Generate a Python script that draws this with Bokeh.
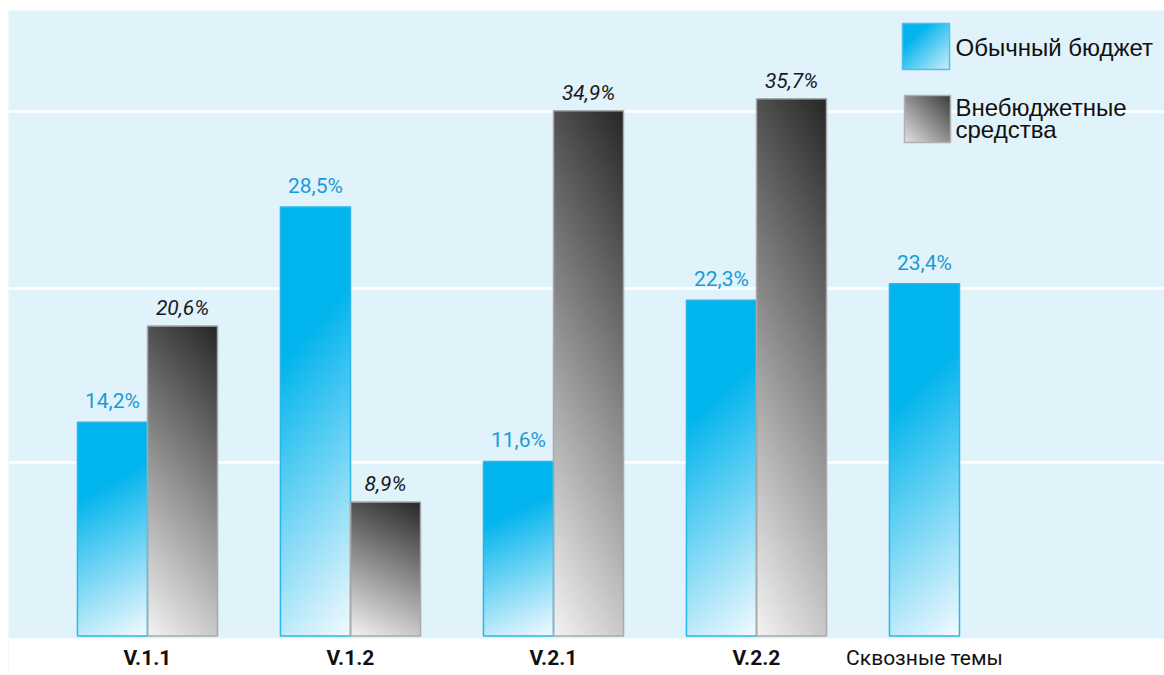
import numpy as np
from bokeh.plotting import figure
from bokeh.models import FixedTicker
from bokeh.core.properties import value
from bokeh.embed import file_html
from bokeh.resources import INLINE

# ---------------- data ----------------
categories = ["V.1.1", "V.1.2", "V.2.1", "V.2.2", "Сквозные темы"]
regular_budget = [14.2, 28.5, 11.6, 22.3, 23.4]
extra_budget = [20.6, 8.9, 34.9, 35.7, None]
legend_labels = ["Обычный бюджет", "Внебюджетные", "средства"]
grid_levels = [11.5, 23.1, 34.85]

# ---------------- layout ----------------
W, H = 1164, 675
FL, FT = 8, 10                 # frame left / top in page px
FW, FH = W - FL, H - FT
X0, X1 = -0.6847, 5.0099
Y0, Y1 = -2.625, 41.56
BAR_W = 0.345
TXT = -9                       # baseline correction (px)


def dx(px):  # page px -> data x
    return X0 + (px - FL) / FW * (X1 - X0)


def dy(py):  # page px -> data y
    return Y1 - (py - FT) / FH * (Y1 - Y0)


def fmt(v):
    return f"{v:.1f}".replace(".", ",") + "%"


def rgba(r, g, b):
    img = np.empty(r.shape, dtype=np.uint32)
    view = img.view(dtype=np.uint8).reshape(r.shape + (4,))
    view[..., 0] = np.clip(r, 0, 255).astype(np.uint8)
    view[..., 1] = np.clip(g, 0, 255).astype(np.uint8)
    view[..., 2] = np.clip(b, 0, 255).astype(np.uint8)
    view[..., 3] = 255
    return img


def lerp(c0, c1, d):
    return [c0[k] + (c1[k] - c0[k]) * d for k in range(3)]


def grad(kind, rows=200, cols=24):
    t = np.linspace(1, 0, rows)[:, None] * np.ones((1, cols))  # 0 at top, 1 at bottom
    u = np.ones((rows, 1)) * np.linspace(0, 1, cols)[None, :]
    if kind == "blue":
        d = np.clip((0.85 * t + 0.15 * u - 0.3) / 0.7, 0, 1)
        r, g, b = lerp((0, 180, 237), (242, 250, 254), d)
    elif kind == "gray":
        d = 0.8 * t + 0.2 * (1 - u)
        r, g, b = lerp((40, 40, 40), (242, 242, 242), d)
    elif kind == "blue_legend":
        d = np.clip((0.5 * t + 0.5 * u - 0.25) / 0.75, 0, 1)
        r, g, b = lerp((0, 180, 237), (205, 238, 251), d)
    else:
        d = 0.5 * t + 0.5 * (1 - u)
        r, g, b = lerp((60, 60, 60), (225, 225, 225), d)
    return rgba(np.array(r), np.array(g), np.array(b))


p = figure(width=W, height=H, x_range=(X0, X1), y_range=(Y0, Y1),
           output_backend="svg", toolbar_location=None,
           x_axis_location=None, y_axis_location=None,
           min_border_left=FL, min_border_right=0, min_border_top=FT, min_border_bottom=0)
p.background_fill_color = "#e0f2fa"
p.border_fill_color = "white"
p.outline_line_color = None
p.xgrid.visible = False
p.ygrid.ticker = FixedTicker(ticks=grid_levels)
p.ygrid.grid_line_color = "white"
p.ygrid.grid_line_width = 2.5

# white band below the plotting area
p.quad(left=X0, right=X1, bottom=Y0, top=dy(638), fill_color="white", line_color=None)

idx = list(range(len(categories)))
blue_x = [i - BAR_W for i in idx]
gray_idx = [i for i in idx if extra_budget[i] is not None]
gray_vals = [extra_budget[i] for i in gray_idx]

# gradient bars
p.image_rgba(image=[grad("blue") for _ in idx], x=blue_x, y=[0] * len(idx),
             dw=[BAR_W] * len(idx), dh=regular_budget)
p.image_rgba(image=[grad("gray") for _ in gray_idx], x=gray_idx, y=[0] * len(gray_idx),
             dw=[BAR_W] * len(gray_idx), dh=gray_vals)

# outlines
p.vbar(x=[i - BAR_W / 2 for i in idx], width=BAR_W, bottom=0, top=regular_budget,
       fill_color=None, line_color="#2cb5ea", line_width=1.5)
p.vbar(x=[i + BAR_W / 2 for i in gray_idx], width=BAR_W, bottom=0, top=gray_vals,
       fill_color=None, line_color="#a9a9a9", line_width=1.5)

# value labels
p.text(x=[i - BAR_W / 2 for i in idx], y=regular_budget, text=[fmt(v) for v in regular_budget],
       text_font=value("Roboto"), text_font_size="21px", text_color="#1a9bd7",
       text_align="center", text_baseline="alphabetic", y_offset=-12 + TXT)
p.text(x=[i + BAR_W / 2 for i in gray_idx], y=gray_vals, text=[fmt(v) for v in gray_vals],
       text_font=value("Roboto"), text_font_size="21px", text_font_style="italic",
       text_color="#1a1a1a", text_align="center", text_baseline="alphabetic", y_offset=-9 + TXT)

# category labels
label_x = [i if extra_budget[i] is not None else i - BAR_W / 2 for i in idx]
bold_i = [i for i in idx if extra_budget[i] is not None]
norm_i = [i for i in idx if extra_budget[i] is None]
p.text(x=[label_x[i] for i in bold_i], y=[dy(666)] * len(bold_i), text=[categories[i] for i in bold_i],
       text_font=value("Roboto"), text_font_size="21px", text_font_style="bold",
       text_color="#111111", text_align="center", text_baseline="alphabetic", y_offset=TXT)
p.text(x=[label_x[i] for i in norm_i], y=[dy(666)] * len(norm_i), text=[categories[i] for i in norm_i],
       text_font=value("Roboto"), text_font_size="21px",
       text_color="#111111", text_align="center", text_baseline="alphabetic", y_offset=TXT)

# legend
p.image_rgba(image=[grad("blue_legend", 60, 60)], x=[dx(902)], y=[dy(69)],
             dw=[dx(949) - dx(902)], dh=[dy(23) - dy(69)])
p.quad(left=dx(902), right=dx(949), bottom=dy(69), top=dy(23), fill_color=None,
       line_color="#4cc0ee", line_width=1.5)
p.image_rgba(image=[grad("gray_legend", 60, 60)], x=[dx(904)], y=[dy(142)],
             dw=[dx(950) - dx(904)], dh=[dy(95) - dy(142)])
p.quad(left=dx(904), right=dx(950), bottom=dy(142), top=dy(95), fill_color=None,
       line_color="#b0b0b0", line_width=1.5)
p.text(x=[dx(955)] * 3, y=[dy(56), dy(116), dy(138)], text=legend_labels,
       text_font=value("Liberation Sans"), text_font_size="24px", text_color="#111111",
       text_align="left", text_baseline="alphabetic", y_offset=TXT)

open("out.html", "w").write(file_html(p, INLINE))
